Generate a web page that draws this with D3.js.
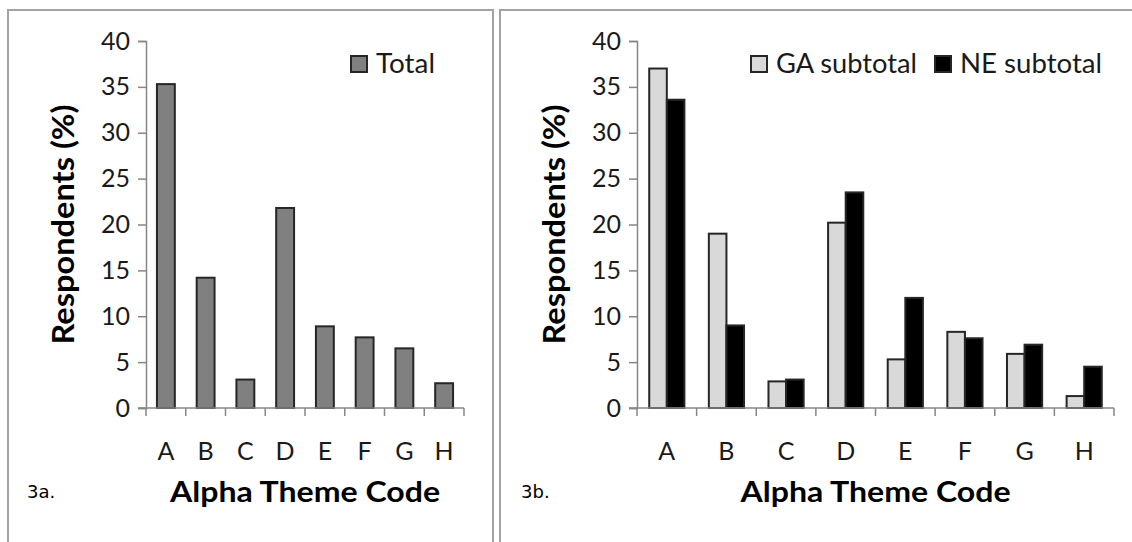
<!DOCTYPE html>
<html>
<head>
<meta charset="utf-8">
<script src="https://cdn.jsdelivr.net/npm/d3@7"></script>
<style>
body { margin: 0; background: #fff; }
svg { display: block; font-family: Lato, "Open Sans", sans-serif; }
</style>
</head>
<body>
<div id="chart"></div>
<script>
var categories = ["A", "B", "C", "D", "E", "F", "G", "H"];
var totalValues = [35.3, 14.2, 3.1, 21.8, 8.9, 7.7, 6.5, 2.7];
var gaValues = [37.0, 19.0, 2.9, 20.2, 5.3, 8.3, 5.9, 1.3];
var neValues = [33.6, 9.0, 3.1, 23.5, 12.0, 7.6, 6.9, 4.5];
var yTicks = [0, 5, 10, 15, 20, 25, 30, 35, 40];

var width = 1132, height = 542;
var svg = d3.select("#chart").append("svg")
    .attr("width", width).attr("height", height);

// panel frames
svg.append("path").attr("d", "M8,545V10H493V545")
    .attr("fill", "none").attr("stroke", "#a3a3a3").attr("stroke-width", 2);
svg.append("path").attr("d", "M500,545V10H1140")
    .attr("fill", "none").attr("stroke", "#a3a3a3").attr("stroke-width", 2);

function drawAxes(g, x, y, label) {
    var yAxis = d3.axisLeft(y).tickValues(yTicks).tickSize(8).tickPadding(8);
    var ya = g.append("g").attr("transform", "translate(" + x.range()[0] + ",0)").call(yAxis);
    ya.select(".domain").attr("stroke", "#868686").attr("stroke-width", 1.5);
    ya.selectAll(".tick line").attr("stroke", "#868686").attr("stroke-width", 1.5);
    ya.selectAll("text").attr("font-size", 25).attr("fill", "#1a1a1a").attr("font-family", "Lato, sans-serif");

    var base = y(0);
    g.append("line").attr("x1", x.range()[0] - 8).attr("x2", x.range()[1])
        .attr("y1", base).attr("y2", base)
        .attr("stroke", "#868686").attr("stroke-width", 1.5);
    var bounds = categories.map(function (c) { return x(c); }).concat([x.range()[1]]);
    g.selectAll(".xtick").data(bounds).enter().append("line")
        .attr("x1", function (d) { return d; }).attr("x2", function (d) { return d; })
        .attr("y1", base).attr("y2", base + 8)
        .attr("stroke", "#868686").attr("stroke-width", 1.5);
    g.selectAll(".xlab").data(categories).enter().append("text")
        .attr("x", function (d) { return x(d) + x.bandwidth() / 2; })
        .attr("y", base + 52)
        .attr("text-anchor", "middle")
        .attr("font-size", 25).attr("fill", "#1a1a1a")
        .text(function (d) { return d; });

    var cx = (x.range()[0] + x.range()[1]) / 2;
    g.append("text").attr("x", cx).attr("y", 502)
        .attr("text-anchor", "middle").attr("font-weight", "bold")
        .attr("font-size", 29).attr("fill", "#000")
        .attr("textLength", 270).attr("lengthAdjust", "spacingAndGlyphs")
        .text("Alpha Theme Code");
    g.append("text")
        .attr("transform", "translate(" + (x.range()[0] - 72) + "," + ((y(0) + y(40)) / 2) + ") rotate(-90)")
        .attr("text-anchor", "middle").attr("font-weight", "bold")
        .attr("font-size", 30).attr("fill", "#000")
        .attr("textLength", 240).attr("lengthAdjust", "spacingAndGlyphs")
        .text("Respondents (%)");
    g.append("text").attr("x", label.x).attr("y", 498)
        .attr("font-family", "DejaVu Sans, sans-serif")
        .attr("font-size", 18).attr("fill", "#000")
        .text(label.text);
}

function legendItem(g, x, fill, text, len) {
    g.append("rect").attr("x", x).attr("y", 56).attr("width", 16).attr("height", 16)
        .attr("fill", fill).attr("stroke", "#262626").attr("stroke-width", 2);
    g.append("text").attr("x", x + 25).attr("y", 73)
        .attr("font-size", 26).attr("fill", "#1a1a1a")
        .attr("textLength", len).attr("lengthAdjust", "spacingAndGlyphs")
        .text(text);
}

function LoadGraphA() {
    var g = svg.append("g");
    var x = d3.scaleBand().domain(categories).range([146, 464]);
    var y = d3.scaleLinear().domain([0, 40]).range([408, 41]);
    var bw = x.bandwidth() * 0.45;
    g.selectAll(".bar").data(totalValues).enter().append("rect")
        .attr("x", function (d, i) { return x(categories[i]) + (x.bandwidth() - bw) / 2; })
        .attr("y", function (d) { return y(d); })
        .attr("width", bw)
        .attr("height", function (d) { return y(0) - y(d); })
        .attr("fill", "#808080").attr("stroke", "#262626").attr("stroke-width", 2);
    drawAxes(g, x, y, { x: 27, text: "3a." });
    legendItem(g, 351, "#808080", "Total", 59);
}

function LoadGraphB() {
    var g = svg.append("g");
    var x = d3.scaleBand().domain(categories).range([637, 1114]);
    var y = d3.scaleLinear().domain([0, 40]).range([408, 41]);
    var bw = x.bandwidth() * 0.295;
    var series = [
        { values: gaValues, fill: "#d9d9d9", off: -1 },
        { values: neValues, fill: "#000000", off: 0 }
    ];
    series.forEach(function (s) {
        g.selectAll(null).data(s.values).enter().append("rect")
            .attr("x", function (d, i) { return x(categories[i]) + x.bandwidth() / 2 + s.off * bw; })
            .attr("y", function (d) { return y(d); })
            .attr("width", bw)
            .attr("height", function (d) { return y(0) - y(d); })
            .attr("fill", s.fill).attr("stroke", "#262626").attr("stroke-width", 2);
    });
    drawAxes(g, x, y, { x: 521, text: "3b." });
    legendItem(g, 751, "#d9d9d9", "GA subtotal", 141);
    legendItem(g, 935, "#000000", "NE subtotal", 142);
}

LoadGraphA();
LoadGraphB();
</script>
</body>
</html>
